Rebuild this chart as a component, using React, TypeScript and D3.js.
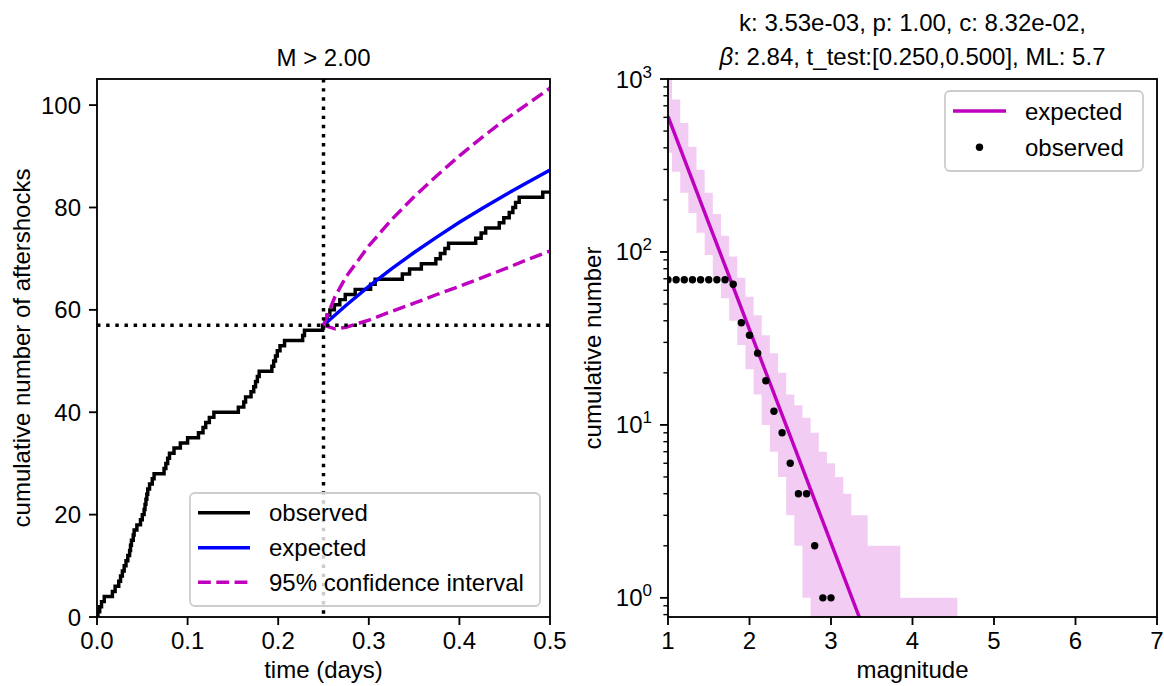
import React from 'react';
import * as d3 from 'd3';

// ---------- left panel: cumulative number of aftershocks, M > 2.00 ----------
// event times (days) of the observed sequence
const obsTimes = [
  0.001, 0.003, 0.005, 0.008, 0.017, 0.020, 0.024, 0.026, 0.028, 0.030,
  0.032, 0.034, 0.036, 0.037, 0.038, 0.040, 0.041, 0.044, 0.048, 0.050,
  0.052, 0.053, 0.054, 0.055, 0.056, 0.058, 0.061, 0.063, 0.074, 0.076,
  0.078, 0.080, 0.085, 0.092, 0.100, 0.112, 0.117, 0.120, 0.124, 0.129,
  0.156, 0.162, 0.164, 0.170, 0.173, 0.175, 0.177, 0.179, 0.193, 0.195,
  0.197, 0.199, 0.202, 0.207, 0.227, 0.229, 0.249, 0.252, 0.254, 0.257,
  0.262, 0.268, 0.274, 0.285, 0.302, 0.307, 0.337, 0.345, 0.358, 0.374,
  0.379, 0.384, 0.388, 0.418, 0.424, 0.429, 0.444, 0.449, 0.455, 0.459,
  0.462, 0.466, 0.492,
];
const expTimes = [0.25, 0.275, 0.3, 0.325, 0.35, 0.375, 0.4, 0.425, 0.45, 0.475, 0.5];
const expCount = [57, 60.9, 64.6, 68.0, 71.2, 74.2, 77.1, 79.8, 82.4, 84.9, 87.3];
const ciTimes = [0.25, 0.2625, 0.275, 0.3, 0.325, 0.35, 0.375, 0.4, 0.425, 0.45, 0.475, 0.5];
const ciUpper = [57, 62.5, 66.5, 72.5, 77.6, 82.1, 86.2, 90.1, 93.7, 97.1, 100.2, 103.3];
const ciLower = [57, 56.3, 56.6, 58.0, 59.7, 61.3, 63.0, 64.6, 66.3, 68.0, 69.8, 71.5];
const tTestStart = 0.25;
const countAtStart = 57;
const timeTicks = [0, 0.1, 0.2, 0.3, 0.4, 0.5];
const countTicks = [0, 20, 40, 60, 80, 100];

// ---------- right panel: cumulative magnitude distribution ----------
const obsMag = [1.0, 1.1, 1.2, 1.3, 1.4, 1.5, 1.6, 1.7, 1.8, 1.9, 2.0, 2.1, 2.2, 2.3, 2.4, 2.5, 2.6, 2.7, 2.8, 2.9, 3.0];
const obsN = [69, 69, 69, 69, 69, 69, 69, 69, 65, 39, 33, 26, 18, 12, 9, 6, 4, 4, 2, 1, 1];
const expMag = [1.0, 1.5, 2.0, 2.5, 3.0, 3.5];
const expN = [608, 147, 35.6, 8.6, 2.08, 0.5];
const bandMag = [
  1.0, 1.1, 1.2, 1.3, 1.4, 1.5, 1.6, 1.7, 1.8, 1.9,
  2.0, 2.1, 2.2, 2.3, 2.4, 2.5, 2.6, 2.7, 2.8, 2.9,
  3.0, 3.1, 3.2, 3.3, 3.4, 3.5, 3.6, 3.7, 3.8, 3.9,
  4.0, 4.1, 4.2, 4.3, 4.4, 4.5,
];
const bandUpper = [
  1050, 760, 556, 406, 299, 220, 166, 124, 94, 71,
  55, 43, 33, 26, 20, 15, 13, 11, 9, 7,
  6, 5, 4, 3, 3, 2, 2, 2, 2, 1,
  1, 1, 1, 1, 1, 1,
];
const bandLower = [
  375, 291, 220, 168, 129, 96, 71, 54, 40, 29,
  21, 15, 10, 7, 5, 3, 2, 1, 0, 0,
  0, 0, 0, 0, 0, 0, 0, 0, 0, 0,
  0, 0, 0, 0, 0, 0,
];
const magTicks = [1, 2, 3, 4, 5, 6, 7];
const decadeTicks = [0, 1, 2, 3];

const FONT = '"Liberation Sans", Arial, Helvetica, sans-serif';
const FS = 24;
const LW = 3.46;
const MAGENTA = '#bf00bf';
const SPINE = 1.84;

const L = { x0: 97, x1: 550, y0: 79, y1: 617 };
const R = { x0: 668, x1: 1157, y0: 79, y1: 617 };

type P = [number, number];

export default function App() {
  // left scales
  const xL = d3.scaleLinear().domain([0, 0.5]).range([L.x0, L.x1]);
  const yL = d3.scaleLinear().domain([0, 105.1]).range([L.y1, L.y0]);
  const lineL = d3.line<P>().x(d => xL(d[0])).y(d => yL(d[1]));
  const stepL = d3.line<P>().x(d => xL(d[0])).y(d => yL(d[1])).curve(d3.curveStepAfter);

  const obsPts: P[] = [[0, 0], ...obsTimes.map((t, i) => [t, i + 1] as P), [0.5, obsTimes.length]];
  const expPts: P[] = expTimes.map((t, i) => [t, expCount[i]]);
  const upPts: P[] = ciTimes.map((t, i) => [t, ciUpper[i]]);
  const loPts: P[] = ciTimes.map((t, i) => [t, ciLower[i]]);

  // right scales
  const xR = d3.scaleLinear().domain([1, 7]).range([R.x0, R.x1]);
  const yR = d3.scaleLog().domain([0.775, 1000]).range([R.y1, R.y0]);
  const bandPts: { m: number; lo: number; hi: number }[] = [];
  bandMag.forEach((m, i) => {
    bandPts.push({ m: m - 0.05, lo: bandLower[i], hi: bandUpper[i] });
    bandPts.push({ m: m + 0.05, lo: bandLower[i], hi: bandUpper[i] });
  });
  const band = d3.area<{ m: number; lo: number; hi: number }>()
    .x(d => xR(d.m))
    .y0(d => (d.lo > 0 ? yR(d.lo) : R.y1 + 10))
    .y1(d => yR(d.hi));
  const expLineR = d3.line<P>().x(d => xR(d[0])).y(d => yR(d[1]));
  const expPtsR: P[] = expMag.map((m, i) => [m, expN[i]]);

  const minorTicks: number[] = [];
  for (let e = -1; e <= 2; e++) {
    for (let k = 2; k <= 9; k++) {
      const v = k * Math.pow(10, e);
      if (v >= 0.775 && v <= 1000) minorTicks.push(v);
    }
  }

  const txt = { fontFamily: FONT, fontSize: FS, fill: '#000' } as const;

  return (
    <svg width={1164} height={686} style={{ position: 'absolute', left: 0, top: 0, background: '#fff' }}>
      <defs>
        <clipPath id="clipL"><rect x={L.x0} y={L.y0} width={L.x1 - L.x0} height={L.y1 - L.y0} /></clipPath>
        <clipPath id="clipR"><rect x={R.x0} y={R.y0} width={R.x1 - R.x0} height={R.y1 - R.y0} /></clipPath>
      </defs>
      <rect x={0} y={0} width={1164} height={686} fill="#fff" />

      {/* ---------------- left panel ---------------- */}
      <g clipPath="url(#clipL)" fill="none">
        <path d={stepL(obsPts) || ''} stroke="#000" strokeWidth={LW} />
        <path d={lineL(expPts) || ''} stroke="#0000ff" strokeWidth={LW} />
        <path d={lineL(upPts) || ''} stroke={MAGENTA} strokeWidth={LW} strokeDasharray="12.8,5.5" />
        <path d={lineL(loPts) || ''} stroke={MAGENTA} strokeWidth={LW} strokeDasharray="12.8,5.5" />
        <line x1={xL(tTestStart)} x2={xL(tTestStart)} y1={L.y0} y2={L.y1} stroke="#000" strokeWidth={LW} strokeDasharray="3.46,5.7" />
        <line x1={L.x0} x2={L.x1} y1={yL(countAtStart)} y2={yL(countAtStart)} stroke="#000" strokeWidth={LW} strokeDasharray="3.46,5.7" />
      </g>
      <rect x={L.x0} y={L.y0} width={L.x1 - L.x0} height={L.y1 - L.y0} fill="none" stroke="#000" strokeWidth={SPINE} />
      {timeTicks.map(t => (
        <g key={'tx' + t}>
          <line x1={xL(t)} x2={xL(t)} y1={L.y1} y2={L.y1 + 8} stroke="#000" strokeWidth={SPINE} />
          <text {...txt} x={xL(t)} y={649} textAnchor="middle">{t.toFixed(1)}</text>
        </g>
      ))}
      {countTicks.map(v => (
        <g key={'ty' + v}>
          <line x1={L.x0 - 8} x2={L.x0} y1={yL(v)} y2={yL(v)} stroke="#000" strokeWidth={SPINE} />
          <text {...txt} x={L.x0 - 16} y={yL(v) + 8.5} textAnchor="end">{v}</text>
        </g>
      ))}
      <text {...txt} x={(L.x0 + L.x1) / 2} y={678} textAnchor="middle">time (days)</text>
      <text {...txt} transform={`translate(30,${(L.y0 + L.y1) / 2}) rotate(-90)`} textAnchor="middle">cumulative number of aftershocks</text>
      <text {...txt} x={(L.x0 + L.x1) / 2} y={65.5} textAnchor="middle">M &gt; 2.00</text>

      {/* left legend */}
      <g>
        <rect x={190} y={493} width={350} height={113} rx={5} fill="#fff" fillOpacity={0.8} stroke="#cccccc" strokeWidth={1.8} />
        <line x1={198} x2={250} y1={512.7} y2={512.7} stroke="#000" strokeWidth={LW} />
        <text {...txt} x={269} y={521}>observed</text>
        <line x1={198} x2={250} y1={547.7} y2={547.7} stroke="#0000ff" strokeWidth={LW} />
        <text {...txt} x={269} y={556}>expected</text>
        <line x1={198} x2={250} y1={582.3} y2={582.3} stroke={MAGENTA} strokeWidth={LW} strokeDasharray="12.8,5.5" />
        <text {...txt} x={269} y={590.6}>95% confidence interval</text>
      </g>

      {/* ---------------- right panel ---------------- */}
      <g clipPath="url(#clipR)">
        <path d={band(bandPts) || ''} fill={MAGENTA} fillOpacity={0.2} stroke="none" />
        <path d={expLineR(expPtsR) || ''} fill="none" stroke={MAGENTA} strokeWidth={LW} />
        {obsMag.map((m, i) => (
          <circle key={'o' + m} cx={xR(m)} cy={yR(obsN[i])} r={3.7} fill="#000" />
        ))}
      </g>
      <rect x={R.x0} y={R.y0} width={R.x1 - R.x0} height={R.y1 - R.y0} fill="none" stroke="#000" strokeWidth={SPINE} />
      {magTicks.map(m => (
        <g key={'mx' + m}>
          <line x1={xR(m)} x2={xR(m)} y1={R.y1} y2={R.y1 + 8} stroke="#000" strokeWidth={SPINE} />
          <text {...txt} x={xR(m)} y={649} textAnchor="middle">{m}</text>
        </g>
      ))}
      {minorTicks.map(v => (
        <line key={'mn' + v} x1={R.x0 - 4.6} x2={R.x0} y1={yR(v)} y2={yR(v)} stroke="#000" strokeWidth={1.4} />
      ))}
      {decadeTicks.map(e => (
        <g key={'dy' + e}>
          <line x1={R.x0 - 8} x2={R.x0} y1={yR(Math.pow(10, e))} y2={yR(Math.pow(10, e))} stroke="#000" strokeWidth={SPINE} />
          <text {...txt} x={R.x0 - 16} y={yR(Math.pow(10, e)) + 8.5} textAnchor="end">
            10<tspan fontSize={17} dy={-10}>{e}</tspan>
          </text>
        </g>
      ))}
      <text {...txt} x={(R.x0 + R.x1) / 2} y={678} textAnchor="middle">magnitude</text>
      <text {...txt} transform={`translate(601,${(R.y0 + R.y1) / 2}) rotate(-90)`} textAnchor="middle">cumulative number</text>
      <text {...txt} x={(R.x0 + R.x1) / 2} y={31} textAnchor="middle">k: 3.53e-03, p: 1.00, c: 8.32e-02,</text>
      <text {...txt} x={(R.x0 + R.x1) / 2} y={65} textAnchor="middle">
        <tspan fontStyle="italic">β</tspan>: 2.84, t_test:[0.250,0.500], ML: 5.7
      </text>

      {/* right legend */}
      <g>
        <rect x={945} y={91} width={198} height={80} rx={5} fill="#fff" fillOpacity={0.8} stroke="#cccccc" strokeWidth={1.8} />
        <line x1={953} x2={1006} y1={111} y2={111} stroke={MAGENTA} strokeWidth={LW} />
        <text {...txt} x={1025} y={119.5}>expected</text>
        <circle cx={979.5} cy={147.3} r={3.7} fill="#000" />
        <text {...txt} x={1025} y={155.8}>observed</text>
      </g>
    </svg>
  );
}
